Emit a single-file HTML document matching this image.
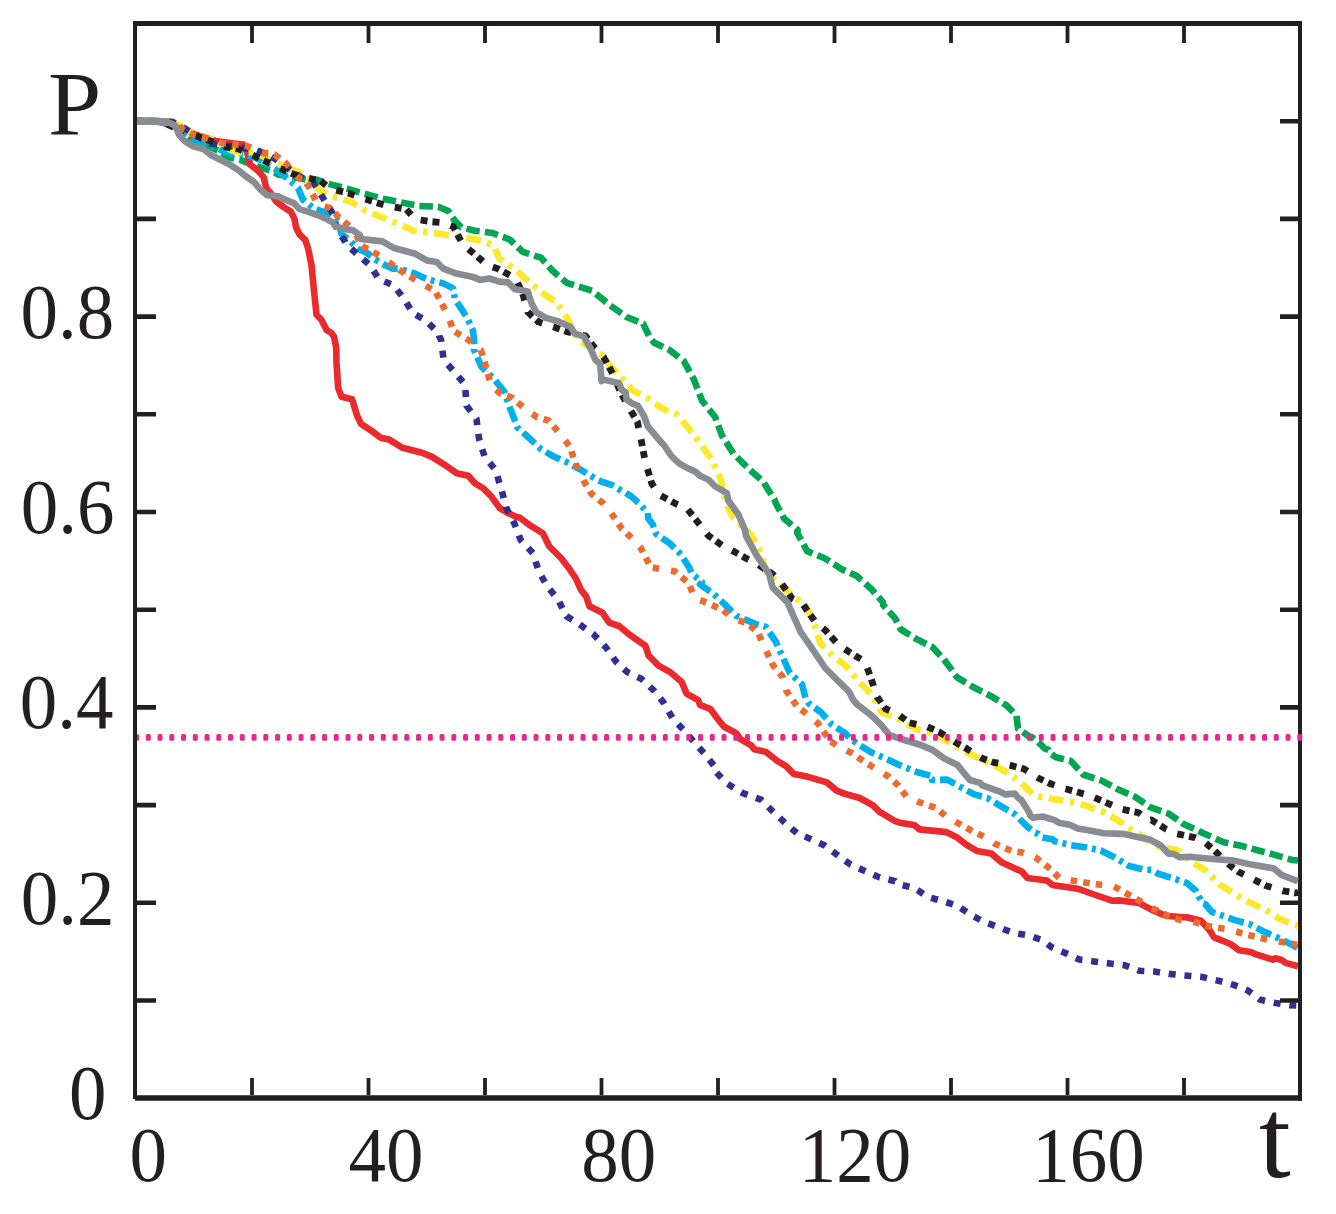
<!DOCTYPE html>
<html><head><meta charset="utf-8"><style>
html,body{margin:0;padding:0;background:#fff;width:1336px;height:1214px;overflow:hidden}
svg{position:absolute;left:0;top:0}
text{font-family:"Liberation Serif",serif;fill:#231f20}
</style></head><body>
<svg width="1336" height="1214" viewBox="0 0 1336 1214">
<g fill="none" stroke-linejoin="round" stroke-linecap="butt">
<path d="M137.0 121.0 L160.0 121.8 L166.0 123.5 L180.0 128.5 L190.7 138.2 L205.0 144.5 L220.3 151.7 L227.5 157.1 L240.0 159.9 L259.9 167.2 L273.5 171.7 L278.1 174.4 L312.5 180.8 L316.5 179.7 L329.7 184.1 L347.4 188.8 L360.0 192.5 L364.3 193.7 L382.4 198.6 L398.8 201.9 L418.6 206.0 L438.4 206.8 L448.3 211.0 L454.9 220.8 L461.4 227.4 L474.6 230.7 L480.0 231.3 L492.9 233.1 L509.7 239.5 L522.8 251.9 L541.0 257.7 L552.5 270.8 L567.3 283.2 L592.0 290.6 L610.1 305.4 L626.6 317.0 L643.1 323.6 L649.4 336.6 L653.7 342.4 L669.4 349.9 L680.0 358.2 L684.0 361.3 L693.9 379.4 L702.1 400.8 L715.3 417.3 L721.9 435.4 L733.4 453.6 L748.3 468.4 L763.1 481.6 L774.6 499.7 L775.8 503.3 L784.2 518.8 L797.7 530.0 L797.2 533.0 L807.1 551.1 L825.2 558.5 L841.7 569.2 L856.5 575.8 L871.3 589.0 L882.9 602.1 L883.0 604.9 L895.2 618.4 L900.5 629.1 L914.3 637.9 L932.4 647.0 L943.9 659.3 L957.1 677.4 L973.6 687.3 L990.0 695.6 L1006.5 705.4 L1016.4 715.3 L1018.0 728.5 L1029.6 736.7 L1032.5 737.4 L1041.1 744.8 L1044.4 748.3 L1048.5 749.8 L1050.0 753.2 L1055.9 757.2 L1070.8 760.9 L1083.1 774.5 L1101.7 780.7 L1117.7 789.3 L1135.0 796.7 L1150.0 807.2 L1168.5 813.6 L1180.0 821.4 L1183.0 823.7 L1202.7 833.0 L1223.8 842.2 L1242.3 846.1 L1259.4 850.7 L1276.5 855.4 L1292.3 860.0 L1298.0 860.5" stroke="#00A651" stroke-width="6.6" stroke-dasharray="13.5 5.2"/>
<path d="M137.0 121.0 L160.0 121.8 L166.0 123.5 L180.0 127.0 L195.0 134.5 L215.8 140.9 L233.8 143.6 L243.6 144.5 L247.3 152.7 L250.0 164.4 L258.1 170.8 L263.6 177.1 L266.3 188.0 L270.8 193.4 L276.3 201.6 L283.5 207.0 L290.8 211.6 L294.4 218.8 L296.2 227.9 L299.9 234.9 L305.3 240.0 L308.2 248.8 L311.5 265.3 L314.8 298.3 L316.5 314.7 L321.4 319.7 L326.6 330.0 L331.3 332.9 L334.0 336.6 L336.2 347.7 L336.5 362.9 L338.1 387.7 L341.4 396.7 L352.1 399.2 L357.1 415.7 L361.2 423.9 L371.1 430.5 L381.0 437.9 L389.2 439.6 L402.4 447.8 L422.1 452.7 L432.0 456.9 L445.2 465.1 L456.7 473.3 L468.3 475.8 L474.9 483.2 L483.1 488.2 L491.3 496.4 L499.8 508.2 L507.8 512.9 L516.5 516.9 L520.0 517.8 L529.7 525.1 L542.8 533.3 L549.4 546.5 L561.0 558.0 L569.5 569.0 L576.0 578.8 L581.0 589.9 L586.1 596.4 L589.4 606.2 L602.6 612.8 L609.2 622.7 L619.1 626.0 L629.0 634.3 L645.4 645.8 L648.7 655.7 L658.6 665.6 L670.1 672.1 L681.7 682.0 L686.6 693.6 L698.2 700.1 L700.0 704.9 L710.6 709.1 L717.2 718.2 L723.8 726.5 L732.9 731.3 L736.0 733.1 L740.6 739.2 L751.1 745.3 L754.4 749.4 L765.9 751.9 L777.4 761.0 L785.7 765.9 L793.9 774.1 L807.1 776.6 L826.9 782.4 L836.7 790.6 L845.0 793.9 L859.8 798.0 L873.0 805.4 L880.0 812.3 L882.9 813.7 L894.4 820.8 L900.0 822.7 L914.1 824.9 L919.5 829.4 L946.5 832.1 L957.2 837.5 L966.2 844.7 L977.0 851.0 L991.4 853.6 L1002.1 862.6 L1021.9 871.6 L1027.3 877.9 L1047.1 880.6 L1052.4 885.1 L1077.6 888.7 L1095.6 895.0 L1112.6 900.8 L1120.0 900.4 L1139.3 903.1 L1151.0 909.4 L1163.2 914.7 L1166.0 915.7 L1183.0 917.3 L1186.5 917.3 L1201.0 920.8 L1209.7 930.3 L1214.0 937.4 L1226.4 942.3 L1230.5 944.0 L1238.9 950.2 L1250.9 951.9 L1255.4 954.2 L1272.9 959.7 L1275.2 958.2 L1281.8 960.0 L1285.5 962.9 L1298.0 966.2" stroke="#EB2A2E" stroke-width="6.6"/>
<path d="M137.0 121.0 L172.0 122.0 L180.0 127.0 L185.3 132.8 L197.9 140.9 L211.3 145.4 L224.8 151.7 L233.8 154.4 L243.6 153.6 L260.8 159.9 L278.1 170.8 L288.9 179.9 L298.0 188.0 L302.9 199.6 L313.8 208.3 L321.4 211.0 L329.2 214.3 L338.4 221.2 L341.4 234.1 L349.1 239.9 L357.7 248.8 L365.9 252.1 L374.1 258.7 L382.4 263.7 L392.3 268.6 L398.8 268.6 L415.3 273.6 L421.9 276.9 L430.1 280.1 L443.3 283.4 L453.2 288.4 L454.9 299.1 L463.1 311.4 L468.0 319.7 L473.1 331.0 L474.6 346.0 L474.0 349.8 L481.5 366.8 L493.1 377.9 L504.6 392.0 L509.9 408.1 L511.1 410.7 L517.5 427.5 L528.0 437.0 L541.2 449.3 L552.7 455.9 L569.2 463.3 L582.4 470.7 L597.2 479.8 L601.6 481.6 L612.2 485.2 L625.0 492.6 L631.3 496.4 L639.0 503.4 L647.8 512.9 L648.3 518.5 L652.7 524.4 L656.5 534.2 L669.7 543.2 L681.2 554.7 L689.5 567.9 L691.6 573.3 L702.0 582.0 L700.0 584.4 L713.1 593.5 L724.6 604.2 L736.1 615.7 L754.4 623.6 L765.9 626.9 L775.8 641.7 L783.2 658.2 L789.8 673.0 L802.1 684.5 L805.4 697.7 L808.7 703.3 L821.1 712.4 L831.8 724.7 L845.0 733.0 L850.0 738.4 L859.0 744.8 L871.0 752.2 L884.5 758.0 L897.7 764.3 L902.7 766.4 L917.5 772.2 L932.4 776.3 L932.1 780.0 L947.2 779.6 L959.7 786.7 L974.3 794.4 L987.2 797.9 L1002.1 806.9 L1014.7 814.1 L1027.3 826.7 L1034.9 832.6 L1038.1 833.9 L1042.4 837.5 L1052.4 839.3 L1054.7 841.2 L1070.6 845.1 L1086.7 847.4 L1100.7 850.5 L1114.4 857.2 L1128.9 865.9 L1143.7 869.6 L1151.3 869.9 L1157.6 873.5 L1171.9 878.0 L1186.9 883.0 L1196.1 890.9 L1202.2 903.1 L1205.4 904.1 L1211.8 911.9 L1220.1 914.8 L1234.8 920.1 L1249.0 923.8 L1262.6 931.0 L1277.0 937.4 L1290.6 943.9 L1297.5 947.8" stroke="#00B0EC" stroke-width="6.6" stroke-dasharray="16 5 4 5"/>
<path d="M137.0 121.0 L172.0 121.8 L180.0 126.0 L190.0 132.0 L200.0 136.5 L211.3 138.5 L222.0 144.5 L232.0 150.8 L242.7 152.7 L255.4 151.8 L272.6 161.7 L298.0 171.7 L309.4 178.9 L320.2 191.0 L335.8 197.4 L351.8 202.2 L365.9 211.0 L382.4 217.5 L398.8 224.1 L413.7 230.7 L430.1 232.4 L445.0 234.8 L461.4 237.3 L477.9 239.8 L481.6 240.4 L493.8 245.8 L499.3 258.7 L503.1 261.0 L517.1 270.8 L529.4 282.4 L542.6 293.1 L556.6 302.1 L567.3 318.6 L577.2 338.4 L598.6 354.0 L601.6 354.7 L609.2 364.6 L620.3 376.6 L633.0 390.6 L647.9 398.4 L661.8 408.3 L677.4 414.8 L689.8 429.7 L700.5 443.7 L712.0 460.1 L720.3 478.3 L725.2 501.3 L733.2 518.0 L751.1 534.6 L759.3 549.4 L765.9 570.8 L777.4 582.4 L790.6 593.9 L805.4 605.4 L813.7 621.9 L820.3 643.3 L833.4 656.5 L846.6 666.4 L858.2 681.0 L871.3 694.1 L881.3 712.0 L901.1 720.3 L916.7 729.3 L932.4 732.6 L947.2 740.9 L962.0 749.9 L976.9 757.3 L993.3 764.7 L1008.2 773.0 L1021.3 782.9 L1034.4 796.0 L1047.7 797.7 L1052.9 799.2 L1071.4 801.7 L1087.5 806.0 L1103.5 812.2 L1117.7 820.2 L1131.9 830.1 L1142.4 836.3 L1159.7 847.4 L1177.3 850.0 L1192.2 861.9 L1206.7 871.2 L1219.2 884.4 L1234.3 893.6 L1248.8 902.1 L1264.7 909.4 L1279.2 918.6 L1293.7 924.5 L1298.0 926.0" stroke="#FDE92B" stroke-width="6.6" stroke-dasharray="15 6.5 4.5 6.5"/>
<path d="M137.0 121.0 L172.0 121.8 L180.0 125.5 L186.2 129.3 L198.0 136.5 L210.5 143.6 L230.0 146.0 L255.4 149.9 L268.1 154.5 L283.5 164.4 L294.4 173.5 L314.6 184.5 L332.7 213.4 L337.9 231.6 L344.2 240.0 L346.1 243.9 L358.5 255.4 L370.0 265.3 L379.1 279.3 L393.1 285.1 L403.8 298.3 L412.9 313.1 L426.0 320.5 L438.6 333.3 L439.2 336.2 L441.1 339.9 L441.7 344.4 L443.6 359.7 L454.3 372.0 L465.0 384.4 L466.6 405.8 L476.5 419.0 L479.0 438.7 L484.7 456.9 L495.5 470.0 L501.4 489.3 L506.4 508.2 L514.6 523.9 L520.6 539.9 L532.9 553.1 L538.7 571.2 L547.2 586.2 L558.1 599.7 L566.4 616.1 L579.5 624.4 L593.5 634.3 L605.9 647.4 L615.8 661.4 L627.3 672.1 L641.3 678.7 L653.7 690.3 L663.6 702.6 L672.6 718.3 L684.2 730.6 L694.9 743.0 L706.5 756.1 L715.5 767.7 L714.8 770.8 L726.4 783.2 L742.8 793.1 L761.0 799.7 L772.5 811.2 L784.8 822.7 L797.2 833.4 L811.2 839.2 L825.2 845.8 L838.4 855.7 L850.7 864.7 L865.6 871.3 L879.8 877.5 L895.2 881.2 L898.0 884.2 L914.1 887.8 L927.6 896.8 L942.9 901.2 L957.2 905.7 L970.7 914.7 L984.2 921.9 L998.6 927.3 L1012.9 932.7 L1028.2 935.4 L1041.7 939.9 L1051.5 947.1 L1065.9 953.3 L1079.4 959.6 L1093.8 961.4 L1109.7 963.5 L1124.4 965.2 L1139.3 970.7 L1154.2 971.5 L1169.2 973.9 L1184.1 975.4 L1202.2 977.0 L1219.5 981.0 L1233.6 984.9 L1247.8 990.4 L1260.3 999.8 L1275.3 1003.0 L1290.2 1005.3 L1298.0 1005.5" stroke="#2E3192" stroke-width="6.6" stroke-dasharray="7 8.8"/>
<path d="M137.0 121.0 L160.0 121.5 L166.0 123.8 L172.0 126.5 L180.0 129.0 L187.0 131.5 L197.9 136.4 L210.5 140.9 L226.6 147.2 L238.7 149.0 L255.4 156.3 L266.3 161.7 L283.5 169.9 L291.7 173.5 L303.4 177.1 L320.2 180.7 L330.6 188.8 L348.3 193.1 L359.0 197.1 L376.6 202.7 L388.1 206.0 L406.3 209.3 L415.3 219.2 L431.8 221.7 L441.7 222.5 L453.2 226.6 L463.1 244.7 L472.2 252.1 L486.8 264.8 L498.3 268.9 L515.4 278.3 L522.8 293.9 L527.8 312.0 L538.5 321.9 L555.8 327.7 L567.3 331.8 L585.4 335.9 L593.7 346.6 L603.5 356.9 L613.7 375.4 L619.9 391.1 L630.3 409.9 L637.4 421.8 L642.2 445.2 L645.1 460.9 L651.8 483.5 L659.5 495.0 L676.0 503.8 L687.1 508.6 L699.5 524.3 L708.2 535.4 L723.1 546.1 L734.6 551.9 L747.8 559.3 L757.7 564.3 L772.5 574.1 L780.7 582.4 L792.3 598.8 L803.0 604.6 L815.3 621.9 L825.2 630.1 L838.4 645.0 L849.5 652.2 L864.8 661.6 L870.1 675.6 L877.2 697.0 L885.4 708.7 L899.4 715.3 L909.3 722.7 L927.4 726.9 L939.0 731.8 L954.6 741.7 L966.1 748.3 L981.8 758.2 L993.3 762.3 L1011.4 765.6 L1023.8 768.9 L1038.2 778.0 L1050.2 783.6 L1062.7 788.1 L1080.7 793.0 L1092.4 796.7 L1109.7 804.1 L1121.4 809.1 L1138.7 812.8 L1148.6 820.2 L1151.3 819.8 L1165.8 829.0 L1176.7 833.7 L1194.8 837.6 L1204.0 841.5 L1213.9 850.1 L1229.1 864.6 L1238.3 871.8 L1255.4 880.4 L1266.0 885.7 L1283.1 890.9 L1295.0 892.9 L1298.0 892.5" stroke="#231F20" stroke-width="6.8" stroke-dasharray="7 5 7 11.5"/>
<path d="M137.0 121.0 L172.0 121.6 L178.0 124.5 L183.5 130.0 L192.5 134.6 L204.2 137.3 L221.2 142.7 L233.4 144.5 L245.4 145.4 L261.8 152.7 L274.4 154.5 L285.3 162.6 L290.8 169.0 L298.9 178.0 L303.3 178.8 L308.5 186.2 L318.0 204.4 L329.7 207.8 L338.8 217.2 L354.3 230.2 L361.0 245.5 L370.8 250.5 L386.5 260.4 L397.2 268.6 L407.9 275.2 L424.4 285.1 L435.1 290.9 L441.7 303.2 L448.3 316.4 L453.3 330.6 L469.8 340.9 L478.4 348.3 L480.8 349.9 L484.8 363.0 L491.0 384.9 L500.8 393.9 L511.9 397.6 L526.4 409.8 L537.1 417.2 L548.6 420.5 L561.8 436.1 L570.0 446.8 L575.0 462.5 L584.0 481.4 L591.4 493.8 L602.7 502.9 L611.0 512.8 L622.0 528.9 L631.8 538.3 L640.9 548.2 L650.7 567.1 L663.1 569.6 L674.6 571.2 L688.5 583.0 L694.9 598.0 L706.5 602.5 L723.0 610.0 L732.8 618.6 L746.1 622.7 L757.7 631.8 L763.4 645.0 L773.3 665.6 L782.4 676.3 L786.5 691.1 L797.2 706.6 L807.9 714.8 L817.8 723.1 L830.1 741.2 L840.9 747.8 L851.6 753.0 L867.2 763.6 L878.4 770.2 L889.0 776.9 L898.2 785.4 L906.5 796.5 L917.7 801.6 L935.7 807.8 L945.6 815.9 L956.3 822.2 L972.5 831.2 L984.2 836.6 L995.0 843.8 L1012.0 851.0 L1023.7 852.7 L1035.2 857.2 L1050.8 869.2 L1059.7 878.5 L1072.1 880.5 L1090.2 883.3 L1102.7 885.1 L1113.5 886.0 L1140.9 901.6 L1151.6 908.0 L1168.8 916.2 L1180.2 919.8 L1192.5 921.2 L1204.2 925.2 L1216.1 927.4 L1228.2 929.2 L1246.2 934.5 L1258.0 937.3 L1269.8 940.2 L1287.0 942.7 L1297.2 944.9" stroke="#EC6B2D" stroke-width="6.6" stroke-dasharray="6.5 6.2 6.5 6.2 6.5 12"/>
</g>
<g stroke="#231f20" fill="none">
<path d="M135 21V1099M1300 21V1101" stroke-width="4"/>
<path d="M133 23.45H1302" stroke-width="5"/><path d="M135 1098H1302" stroke-width="5.4"/>
<path d="M252.0 26V43M368.5 26V43M485.0 26V43M601.5 26V43M718.0 26V43M834.5 26V43M951.0 26V43M1067.5 26V43M1184.0 26V43M252.0 1095V1078M368.5 1095V1078M485.0 1095V1078M601.5 1095V1078M718.0 1095V1078M834.5 1095V1078M951.0 1095V1078M1067.5 1095V1078M1184.0 1095V1078" stroke-width="3.8"/>
<path d="M137 1000.5H156M137 902.8H156M137 805.1H156M137 707.4H156M137 609.7H156M137 512.0H156M137 414.3H156M137 316.6H156M137 218.9H156M137 121.2H156M1298 1000.5H1280M1298 902.8H1280M1298 805.1H1280M1298 707.4H1280M1298 609.7H1280M1298 512.0H1280M1298 414.3H1280M1298 316.6H1280M1298 218.9H1280M1298 121.2H1280" stroke-width="4.6"/>
</g>
<g fill="none" stroke-linejoin="round" stroke-linecap="butt">
<path d="M137.0 121.2 L155.7 121.6 L162.0 122.1 L170.0 123.0 L175.4 125.7 L179.0 134.6 L184.4 140.9 L193.4 146.3 L203.3 149.0 L211.3 155.3 L220.3 159.8 L229.3 164.3 L239.2 170.7 L244.5 175.3 L253.6 181.7 L259.9 188.9 L267.2 195.3 L278.1 196.2 L285.3 199.8 L294.4 203.4 L299.4 209.1 L308.0 211.6 L316.8 214.8 L326.1 218.8 L333.0 222.5 L335.2 226.1 L343.5 228.9 L353.0 230.2 L360.0 235.1 L361.0 239.0 L382.4 241.4 L393.9 248.0 L415.3 253.8 L426.9 260.4 L436.7 262.0 L443.3 268.6 L456.5 273.6 L473.0 276.9 L480.0 279.9 L489.5 278.5 L500.0 281.8 L508.0 282.4 L514.6 289.0 L527.8 291.4 L531.1 302.1 L536.0 312.0 L545.9 317.8 L557.4 321.1 L570.6 326.9 L574.7 333.4 L583.8 336.7 L590.4 348.3 L595.3 359.8 L600.1 363.9 L601.6 381.1 L603.6 379.6 L619.0 383.2 L621.9 390.0 L625.8 392.8 L626.5 399.6 L631.8 403.2 L637.9 405.8 L643.9 416.0 L648.0 426.7 L661.0 442.0 L664.7 446.0 L670.8 455.2 L674.6 459.2 L679.1 463.4 L686.2 467.4 L695.6 471.7 L700.0 475.7 L708.7 479.9 L715.3 486.5 L726.9 493.1 L728.0 500.0 L730.1 503.0 L736.2 511.5 L738.4 514.5 L745.0 530.0 L746.1 536.2 L756.0 554.4 L769.2 574.1 L772.5 587.3 L787.3 602.1 L793.9 617.0 L800.5 631.8 L812.0 648.3 L825.2 668.0 L836.7 679.6 L849.1 691.7 L853.2 700.0 L858.2 705.4 L871.4 715.3 L881.3 725.2 L889.5 735.1 L904.4 740.0 L920.8 745.0 L932.4 749.9 L943.9 758.2 L957.1 764.7 L965.3 774.6 L969.8 780.0 L980.1 782.9 L982.4 785.4 L998.3 791.1 L1005.7 794.4 L1014.7 793.6 L1018.3 798.0 L1021.3 800.0 L1029.1 812.3 L1030.0 815.3 L1032.7 817.7 L1042.4 816.5 L1054.7 820.2 L1059.6 823.1 L1070.8 825.1 L1077.6 828.5 L1086.8 830.1 L1104.3 833.2 L1120.0 833.9 L1122.7 833.8 L1137.5 836.9 L1150.5 839.8 L1160.8 845.5 L1168.4 853.6 L1173.7 854.0 L1180.0 857.3 L1189.5 856.7 L1215.9 859.3 L1234.3 860.6 L1251.5 864.6 L1273.9 868.5 L1281.8 875.1 L1297.8 881.1" stroke="#888D93" stroke-width="6.6"/><path d="M137 121 L156 121 L160 121.6 L168 122.2" stroke="#888D93" stroke-width="7.6"/>
<g fill="#E82690" stroke="none"><rect x="137.00" y="734.1" width="2.05" height="6.7" rx="1.6"/><rect x="145.80" y="734.1" width="5.00" height="6.7" rx="1.6"/><rect x="157.55" y="734.1" width="5.00" height="6.7" rx="1.6"/><rect x="169.30" y="734.1" width="5.00" height="6.7" rx="1.6"/><rect x="181.05" y="734.1" width="5.00" height="6.7" rx="1.6"/><rect x="192.80" y="734.1" width="5.00" height="6.7" rx="1.6"/><rect x="204.55" y="734.1" width="5.00" height="6.7" rx="1.6"/><rect x="216.30" y="734.1" width="5.00" height="6.7" rx="1.6"/><rect x="228.05" y="734.1" width="5.00" height="6.7" rx="1.6"/><rect x="239.80" y="734.1" width="5.00" height="6.7" rx="1.6"/><rect x="251.55" y="734.1" width="5.00" height="6.7" rx="1.6"/><rect x="263.30" y="734.1" width="5.00" height="6.7" rx="1.6"/><rect x="275.05" y="734.1" width="5.00" height="6.7" rx="1.6"/><rect x="286.80" y="734.1" width="5.00" height="6.7" rx="1.6"/><rect x="298.55" y="734.1" width="5.00" height="6.7" rx="1.6"/><rect x="310.30" y="734.1" width="5.00" height="6.7" rx="1.6"/><rect x="322.05" y="734.1" width="5.00" height="6.7" rx="1.6"/><rect x="333.80" y="734.1" width="5.00" height="6.7" rx="1.6"/><rect x="345.55" y="734.1" width="5.00" height="6.7" rx="1.6"/><rect x="357.30" y="734.1" width="5.00" height="6.7" rx="1.6"/><rect x="369.05" y="734.1" width="5.00" height="6.7" rx="1.6"/><rect x="380.80" y="734.1" width="5.00" height="6.7" rx="1.6"/><rect x="392.55" y="734.1" width="5.00" height="6.7" rx="1.6"/><rect x="404.30" y="734.1" width="5.00" height="6.7" rx="1.6"/><rect x="416.05" y="734.1" width="5.00" height="6.7" rx="1.6"/><rect x="427.80" y="734.1" width="5.00" height="6.7" rx="1.6"/><rect x="439.55" y="734.1" width="5.00" height="6.7" rx="1.6"/><rect x="451.30" y="734.1" width="5.00" height="6.7" rx="1.6"/><rect x="463.05" y="734.1" width="5.00" height="6.7" rx="1.6"/><rect x="474.80" y="734.1" width="5.00" height="6.7" rx="1.6"/><rect x="486.55" y="734.1" width="5.00" height="6.7" rx="1.6"/><rect x="498.30" y="734.1" width="5.00" height="6.7" rx="1.6"/><rect x="510.05" y="734.1" width="5.00" height="6.7" rx="1.6"/><rect x="521.80" y="734.1" width="5.00" height="6.7" rx="1.6"/><rect x="533.55" y="734.1" width="5.00" height="6.7" rx="1.6"/><rect x="545.30" y="734.1" width="5.00" height="6.7" rx="1.6"/><rect x="557.05" y="734.1" width="5.00" height="6.7" rx="1.6"/><rect x="568.80" y="734.1" width="5.00" height="6.7" rx="1.6"/><rect x="580.55" y="734.1" width="5.00" height="6.7" rx="1.6"/><rect x="592.30" y="734.1" width="5.00" height="6.7" rx="1.6"/><rect x="604.05" y="734.1" width="5.00" height="6.7" rx="1.6"/><rect x="615.80" y="734.1" width="5.00" height="6.7" rx="1.6"/><rect x="627.55" y="734.1" width="5.00" height="6.7" rx="1.6"/><rect x="639.30" y="734.1" width="5.00" height="6.7" rx="1.6"/><rect x="651.05" y="734.1" width="5.00" height="6.7" rx="1.6"/><rect x="662.80" y="734.1" width="5.00" height="6.7" rx="1.6"/><rect x="674.55" y="734.1" width="5.00" height="6.7" rx="1.6"/><rect x="686.30" y="734.1" width="5.00" height="6.7" rx="1.6"/><rect x="698.05" y="734.1" width="5.00" height="6.7" rx="1.6"/><rect x="709.80" y="734.1" width="5.00" height="6.7" rx="1.6"/><rect x="721.55" y="734.1" width="5.00" height="6.7" rx="1.6"/><rect x="733.30" y="734.1" width="5.00" height="6.7" rx="1.6"/><rect x="745.05" y="734.1" width="5.00" height="6.7" rx="1.6"/><rect x="756.80" y="734.1" width="5.00" height="6.7" rx="1.6"/><rect x="768.55" y="734.1" width="5.00" height="6.7" rx="1.6"/><rect x="780.30" y="734.1" width="5.00" height="6.7" rx="1.6"/><rect x="792.05" y="734.1" width="5.00" height="6.7" rx="1.6"/><rect x="803.80" y="734.1" width="5.00" height="6.7" rx="1.6"/><rect x="815.55" y="734.1" width="5.00" height="6.7" rx="1.6"/><rect x="827.30" y="734.1" width="5.00" height="6.7" rx="1.6"/><rect x="839.05" y="734.1" width="5.00" height="6.7" rx="1.6"/><rect x="850.80" y="734.1" width="5.00" height="6.7" rx="1.6"/><rect x="862.55" y="734.1" width="5.00" height="6.7" rx="1.6"/><rect x="874.30" y="734.1" width="5.00" height="6.7" rx="1.6"/><rect x="886.05" y="734.1" width="5.00" height="6.7" rx="1.6"/><rect x="897.80" y="734.1" width="5.00" height="6.7" rx="1.6"/><rect x="909.55" y="734.1" width="5.00" height="6.7" rx="1.6"/><rect x="921.30" y="734.1" width="5.00" height="6.7" rx="1.6"/><rect x="933.05" y="734.1" width="5.00" height="6.7" rx="1.6"/><rect x="944.80" y="734.1" width="5.00" height="6.7" rx="1.6"/><rect x="956.55" y="734.1" width="5.00" height="6.7" rx="1.6"/><rect x="968.30" y="734.1" width="5.00" height="6.7" rx="1.6"/><rect x="980.05" y="734.1" width="5.00" height="6.7" rx="1.6"/><rect x="991.80" y="734.1" width="5.00" height="6.7" rx="1.6"/><rect x="1003.55" y="734.1" width="5.00" height="6.7" rx="1.6"/><rect x="1015.30" y="734.1" width="5.00" height="6.7" rx="1.6"/><rect x="1027.05" y="734.1" width="5.00" height="6.7" rx="1.6"/><rect x="1038.80" y="734.1" width="5.00" height="6.7" rx="1.6"/><rect x="1050.55" y="734.1" width="5.00" height="6.7" rx="1.6"/><rect x="1062.30" y="734.1" width="5.00" height="6.7" rx="1.6"/><rect x="1074.05" y="734.1" width="5.00" height="6.7" rx="1.6"/><rect x="1085.80" y="734.1" width="5.00" height="6.7" rx="1.6"/><rect x="1097.55" y="734.1" width="5.00" height="6.7" rx="1.6"/><rect x="1109.30" y="734.1" width="5.00" height="6.7" rx="1.6"/><rect x="1121.05" y="734.1" width="5.00" height="6.7" rx="1.6"/><rect x="1132.80" y="734.1" width="5.00" height="6.7" rx="1.6"/><rect x="1144.55" y="734.1" width="5.00" height="6.7" rx="1.6"/><rect x="1156.30" y="734.1" width="5.00" height="6.7" rx="1.6"/><rect x="1168.05" y="734.1" width="5.00" height="6.7" rx="1.6"/><rect x="1179.80" y="734.1" width="5.00" height="6.7" rx="1.6"/><rect x="1191.55" y="734.1" width="5.00" height="6.7" rx="1.6"/><rect x="1203.30" y="734.1" width="5.00" height="6.7" rx="1.6"/><rect x="1215.05" y="734.1" width="5.00" height="6.7" rx="1.6"/><rect x="1226.80" y="734.1" width="5.00" height="6.7" rx="1.6"/><rect x="1238.55" y="734.1" width="5.00" height="6.7" rx="1.6"/><rect x="1250.30" y="734.1" width="5.00" height="6.7" rx="1.6"/><rect x="1262.05" y="734.1" width="5.00" height="6.7" rx="1.6"/><rect x="1273.80" y="734.1" width="5.00" height="6.7" rx="1.6"/><rect x="1285.55" y="734.1" width="5.00" height="6.7" rx="1.6"/><rect x="1297.30" y="734.1" width="5.00" height="6.7" rx="1.6"/></g>
</g>
<text transform="matrix(1.0 0 0 1.045 20.4 337.95)" font-size="75">0.8</text>
<text transform="matrix(1.0 0 0 1.045 20.8 533.2)" font-size="75">0.6</text>
<text transform="matrix(1.0 0 0 1.045 19.8 728.35)" font-size="75">0.4</text>
<text transform="matrix(1.0 0 0 1.045 20.85 924.3)" font-size="75">0.2</text>
<text transform="matrix(1.0 0 0 1.045 68.9 1119.3)" font-size="75">0</text>
<text transform="matrix(1.0 0 0 1.045 129.45 1180.95)" font-size="75">0</text>
<text transform="matrix(1.0 0 0 1.045 348.6 1181.1)" font-size="75">40</text>
<text transform="matrix(1.0 0 0 1.045 581.3 1180.95)" font-size="75">80</text>
<text transform="matrix(1.0 0 0 1.045 798.85 1180.95)" font-size="75">120</text>
<text transform="matrix(1.0 0 0 1.045 1032.25 1181.05)" font-size="75">160</text>
<text transform="matrix(1.0 0 0 0.9508 48.0 134.9)" font-size="96">P</text>
<text transform="matrix(0.9933 0 0 0.9985 1259.01 1176.8)" font-size="115">t</text>
</svg>
</body></html>
